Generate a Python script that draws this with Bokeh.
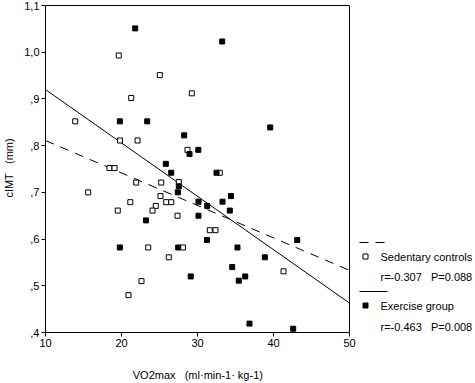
from bokeh.plotting import figure
from bokeh.models import Range1d, FixedTicker, Label
from bokeh.embed import file_html
from bokeh.resources import INLINE

# Sedentary controls (open squares)
sed_x = [19.64, 25.04, 29.25, 21.28, 13.91, 19.80, 22.11, 28.68, 18.42, 19.08,
         32.93, 21.93, 25.22, 27.54, 15.62, 25.13, 21.16, 25.88, 26.54, 19.51,
         24.51, 24.08, 27.37, 31.62, 32.37, 23.51, 28.09, 26.22, 22.63, 20.92, 41.32]
sed_y = [0.993, 0.951, 0.912, 0.902, 0.852, 0.811, 0.811, 0.791, 0.752, 0.752,
         0.742, 0.721, 0.721, 0.722, 0.700, 0.692, 0.679, 0.679, 0.679, 0.661,
         0.671, 0.661, 0.650, 0.619, 0.619, 0.582, 0.582, 0.561, 0.510, 0.480, 0.531]

# Exercise group (filled squares)
ex_x = [21.80, 33.25, 19.78, 23.38, 39.57, 28.25, 28.95, 30.11, 25.83, 26.54,
        32.50, 27.54, 27.41, 34.41, 30.13, 33.29, 31.28, 34.25, 30.13, 23.22,
        31.25, 43.12, 19.78, 27.46, 35.26, 38.86, 29.11, 34.57, 36.28, 35.43,
        36.84, 42.59]
ex_y = [1.051, 1.023, 0.852, 0.852, 0.839, 0.822, 0.782, 0.791, 0.761, 0.742,
        0.742, 0.713, 0.700, 0.692, 0.680, 0.680, 0.671, 0.661, 0.650, 0.640,
        0.598, 0.598, 0.582, 0.582, 0.582, 0.561, 0.520, 0.540, 0.520, 0.511,
        0.419, 0.408]

# Regression lines
fit_x = [10, 50]
sed_fit_y = [0.811, 0.533]
ex_fit_y = [0.920, 0.463]

x_ticks = [10, 20, 30, 40, 50]
y_ticks = [0.4, 0.5, 0.6, 0.7, 0.8, 0.9, 1.0, 1.1]
y_tick_labels = [",4", ",5", ",6", ",7", ",8", ",9", "1,0", "1,1"]

NB = "\u00a0"
sed_label = "Sedentary controls"
sed_stats = "r=-0.307" + NB * 3 + "P=0.088"
ex_label = "Exercise group"
ex_stats = "r=-0.463" + NB * 3 + "P=0.008"
# trailing no-break spaces shift the centred title left, under the axes box
x_title = "VO2max" + NB * 3 + "(ml·min-1·" + NB + "kg-1)" + NB * 41
y_title = "cIMT" + NB * 3 + "(mm)"

FONT = "Liberation Sans"

# pixel geometry: axes box from x=45..349, y=5..332 on the page
PX_PER_X = 7.6
PX_PER_Y = 467.14
X_MIN, X_MAX = x_ticks[0], x_ticks[-1]
Y_MIN, Y_MAX = y_ticks[0], y_ticks[-1]

W, H = 475, 383
LEFT, TOP, BOTTOM = 45, 3, 51

x_end = X_MIN + (W - LEFT) / PX_PER_X
y_end = Y_MAX + (5 - TOP) / PX_PER_Y

p = figure(width=W, height=H, x_range=Range1d(X_MIN, x_end), y_range=Range1d(Y_MIN, y_end),
           output_backend="svg", toolbar_location=None,
           min_border_left=LEFT, min_border_right=0, min_border_top=TOP,
           min_border_bottom=BOTTOM)
p.styles = {"position": "absolute", "left": "0px", "top": "0px"}
p.background_fill_color = "white"
p.border_fill_color = "white"
p.outline_line_color = None
p.grid.visible = False

p.xaxis.ticker = FixedTicker(ticks=x_ticks)
p.yaxis.ticker = FixedTicker(ticks=y_ticks)
p.xaxis.bounds = (X_MIN, X_MAX)
p.yaxis.bounds = (Y_MIN, Y_MAX)
p.yaxis.major_label_overrides = dict(zip(y_ticks, y_tick_labels))
for ax in (p.xaxis[0], p.yaxis[0]):
    ax.axis_line_color = "black"
    ax.major_tick_line_color = "black"
    ax.major_tick_out = 4
    ax.major_tick_in = 0
    ax.minor_tick_line_color = None
    ax.major_label_text_font = FONT
    ax.major_label_text_font_size = "11px"
    ax.major_label_text_color = "black"
    ax.axis_label_text_font = FONT
    ax.axis_label_text_font_size = "11px"
    ax.axis_label_text_font_style = "normal"
    ax.axis_label_text_color = "black"
p.xaxis.major_label_standoff = 2
p.yaxis.major_label_standoff = 2
p.xaxis.axis_label = x_title
p.yaxis.axis_label = y_title
p.xaxis.axis_label_standoff = 19
p.yaxis.axis_label_standoff = 6

# top and right edges of the axes box
p.line([X_MIN, X_MAX, X_MAX], [Y_MAX, Y_MAX, Y_MIN], line_color="black", line_width=1)

p.line(fit_x, sed_fit_y, line_color="black", line_width=1, line_dash="9 7")
p.line(fit_x, ex_fit_y, line_color="black", line_width=1)

p.scatter(sed_x, sed_y, marker="square", size=5, fill_color="white",
          line_color="black", line_width=1)
p.scatter(ex_x, ex_y, marker="square", size=5, fill_color="black",
          line_color="black", line_width=1)

# legend (page pixel positions -> data units)
def lx(px):
    return X_MIN + (px - 45) / PX_PER_X

def ly(py):
    return Y_MAX - (py - 5) / PX_PER_Y

def legend_line(py, dash):
    p.line([lx(359), lx(387)], [ly(py), ly(py)], line_color="black", line_width=1,
           line_dash=dash)

def legend_square(py, fill):
    p.scatter([lx(365)], [ly(py)], marker="square", size=5, fill_color=fill,
              line_color="black", line_width=1)

def legend_text(py, txt):
    p.add_layout(Label(x=lx(380), y=ly(py), text=txt, text_baseline="middle",
                       text_align="left", text_font=FONT, text_font_size="11px",
                       text_color="black"))

legend_line(242, "9 7")
legend_square(256, "white")
legend_text(256, sed_label)
legend_text(276, sed_stats)
legend_line(291, "solid")
legend_square(305, "black")
legend_text(305, ex_label)
legend_text(326, ex_stats)

open("out.html", "w").write(file_html(p, INLINE))
